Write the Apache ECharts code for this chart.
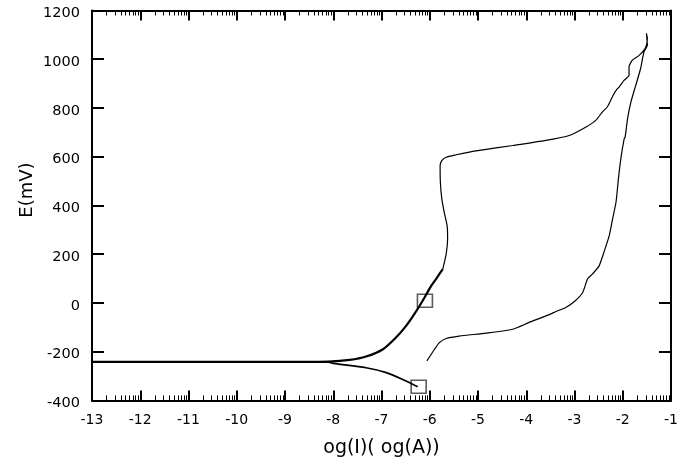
<!DOCTYPE html>
<html lang="en">
<head>
	<meta charset="UTF-8">
	<title>E - log(I)</title>
	<script src="https://cdn.jsdelivr.net/npm/echarts@6/dist/echarts.min.js" type="text/javascript"></script>
	<style>
		html,body{margin:0;padding:0;background:#fff;}
		#chart{width:686px;height:466px;}
	</style>
</head>
<body>
<div id="chart"></div>
<script>
	// cathodic branch, forward (goes up through the upper square)
	var upX = [-13, -8.6, -8.1, -7.66, -7.32, -6.97, -6.70, -6.49, -6.32, -6.15, -5.97, -5.87, -5.73];
	var upY = [-242, -242, -241, -234, -220, -190, -142, -94, -46, 8, 70, 98, 139];
	// lower cathodic branch ending in the lower square
	var lowX = [-8.6, -8.1, -8.0, -7.32, -6.90, -6.56, -6.25];
	var lowY = [-242, -243, -248, -266, -286, -314, -344];
	// anodic loop: passive plateau, top, then return scan
	var loopX = [-5.73, -5.66, -5.63, -5.64, -5.70, -5.75, -5.78, -5.785, -5.75, -5.66, -5.45, -5.18, -4.97,
		-4.28, -3.59, -3.11, -2.76, -2.56, -2.42, -2.32, -2.25, -2.18, -2.11, -2.075, -1.97, -1.87, -1.87,
		-1.80, -1.66, -1.56, -1.51, -1.49, -1.51,
		-1.49, -1.56, -1.63, -1.73, -1.83, -1.90, -1.95, -1.97, -2.04, -2.09, -2.14, -2.21, -2.28, -2.39,
		-2.49, -2.63, -2.73, -2.83, -2.99, -3.18, -3.32, -3.59, -3.94, -4.28, -4.83, -5.39, -5.66, -5.80,
		-5.90, -6.06];
	var loopY = [139, 200, 262, 317, 372, 427, 495, 564, 584, 598, 608, 619, 626,
		646, 667, 687, 722, 749, 784, 804, 831, 859, 879, 886, 914, 934, 969,
		996, 1016, 1037, 1057, 1085, 1106,
		1057, 1030, 962, 893, 825, 756, 681, 674, 591, 509, 413, 345, 276, 208,
		152, 118, 98, 43, 8, -19, -30, -53, -80, -108, -124, -136, -146, -163,
		-190, -238];
	// square markers
	var markX = [-6.1, -6.23];
	var markY = [9, -344];
	// axes
	var xMin = -13, xMax = -1, yMin = -400, yMax = 1200;

	function pairs(xs, ys){
		var out = [];
		for(var i=0;i<xs.length;i++){
			out.push([xs[i], ys[i]]);
		}
		return out;
	}
	// log-style minor ticks inside each decade
	var minorTicks = [];
	for(var n=xMin;n<xMax;n++){
		for(var k=2;k<10;k++){
			minorTicks.push(n + Math.log10(k));
		}
	}

	var font = 'DejaVu Sans';
	var axisLine = {show:true, onZero:false, lineStyle:{color:'#000', width:2}};

	function xAxisOf(pos, minor){
		return {
			type:'value', min:xMin, max:xMax, interval:1, position:pos,
			axisLine: minor ? {show:false, onZero:false} : axisLine,
			axisTick: minor
				? {show:true, inside:true, length:5, customValues:minorTicks, lineStyle:{color:'#000', width:1}}
				: {show:true, inside:true, length:10, lineStyle:{color:'#000', width:2}},
			axisLabel:{show: pos=='bottom' && !minor, color:'#000', fontFamily:font, fontSize:14, margin:13},
			splitLine:{show:false}
		};
	}
	var xMain = xAxisOf('bottom', false);
	xMain.name = 'og(I)( og(A))';
	xMain.nameLocation = 'middle';
	xMain.nameGap = 38;
	xMain.nameTextStyle = {color:'#000', fontFamily:font, fontSize:19};

	function yAxisOf(pos){
		return {
			type:'value', min:yMin, max:yMax, interval:200, position:pos,
			axisLine: axisLine,
			axisTick:{show:true, inside:true, length:12, lineStyle:{color:'#000', width:2}},
			axisLabel:{show: pos=='left', color:'#000', fontFamily:font, fontSize:14.5, margin:12,
				verticalAlign:'top', lineHeight:6, formatter:function(v){ return String(v); }},
			splitLine:{show:false}
		};
	}

	var myChart = echarts.init(document.getElementById('chart'));
	var option = {
		animation:false,
		backgroundColor:'#fff',
		grid:{left:92, right:15, top:10.5, bottom:65.6},
		xAxis:[xMain, xAxisOf('top', false), xAxisOf('bottom', true), xAxisOf('top', true)],
		yAxis:[yAxisOf('left'), yAxisOf('right')],
		graphic:[{
			type:'text', x:27, y:190, rotation:Math.PI/2,
			style:{text:'E(mV)', fill:'#000', font:'18px ' + font, align:'center', verticalAlign:'middle'}
		}],
		series:[
			{
				type:'line', data:pairs(upX, upY), symbol:'none', smooth:0.3,
				lineStyle:{color:'#000', width:2.2}
			},
			{
				type:'line', data:pairs(lowX, lowY), symbol:'none', smooth:0.3,
				lineStyle:{color:'#000', width:1.7}
			},
			{
				type:'line', data:pairs(loopX, loopY), symbol:'none', smooth:0.2,
				lineStyle:{color:'#000', width:1.2}
			},
			{
				type:'scatter', data:pairs(markX, markY), symbol:'rect', symbolSize:[15,13],
				itemStyle:{color:'rgba(0,0,0,0)', borderColor:'#333', borderWidth:1.5}
			}
		]
	};
	myChart.setOption(option);
</script>
</body>
</html>
